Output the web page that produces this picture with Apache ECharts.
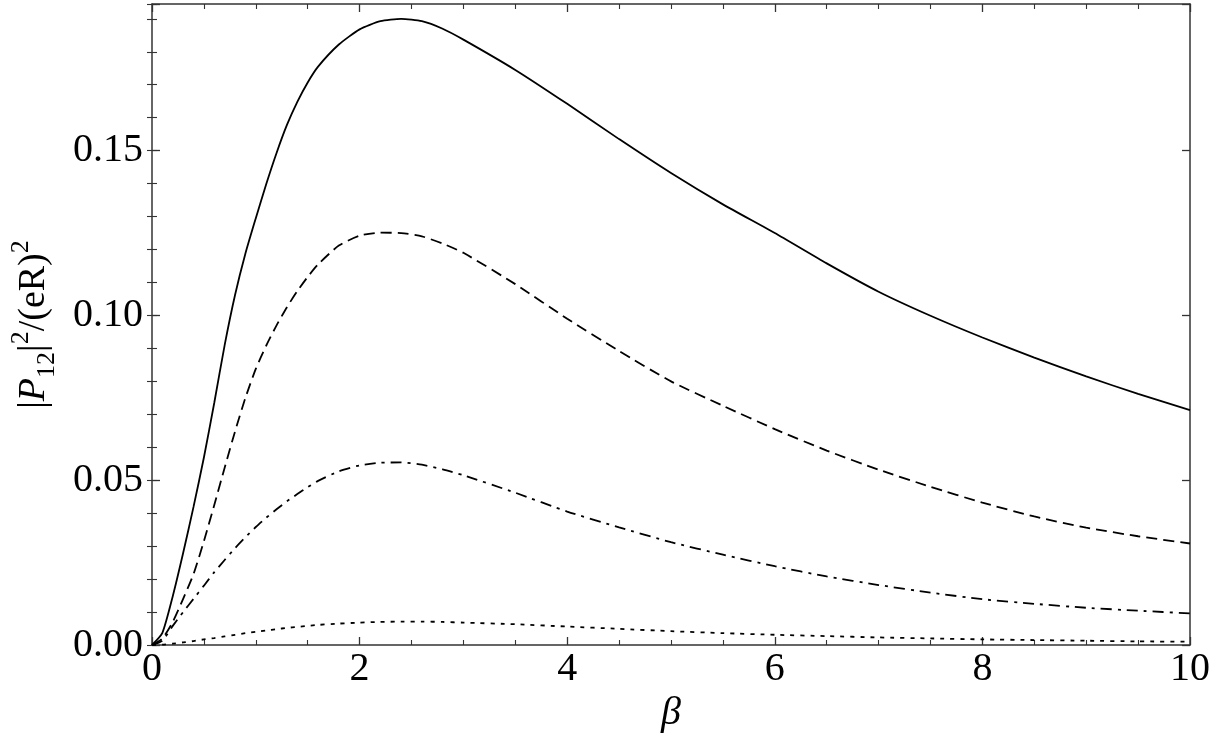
<!DOCTYPE html>
<html>
<head>
<meta charset="utf-8">
<script src="https://cdn.jsdelivr.net/npm/echarts@6/dist/echarts.min.js"></script>
<style>
  html, body { margin: 0; padding: 0; background: #fff; }
  #main { width: 1216px; height: 750px; }
</style>
</head>
<body>
<div id="main"></div>
<script>
  // beta sample points
  let beta = [0, 0.1, 0.2, 0.3, 0.4, 0.5, 0.6, 0.7, 0.8, 0.9, 1.0, 1.1, 1.2, 1.3, 1.4, 1.5, 1.6, 1.8,
    2.0, 2.2, 2.4, 2.6, 2.8, 3.0, 3.5, 4.0, 4.5, 5.0, 5.5, 6.0, 6.5, 7.0, 7.5, 8.0, 8.5, 9.0, 9.5, 10]
  // solid
  let solidVals = [0, 0.0037, 0.0148, 0.0279, 0.0419, 0.0569, 0.0735, 0.0910, 0.1062, 0.1188, 0.1295,
    0.1398, 0.1493, 0.1578, 0.1648, 0.1707, 0.1755, 0.1822, 0.1868, 0.1893, 0.1900, 0.1893, 0.1870,
    0.1837, 0.1745, 0.1642, 0.1535, 0.1432, 0.1337, 0.1250, 0.1158, 0.1072, 0.0999, 0.0933, 0.0872,
    0.0815, 0.0762, 0.0713]
  // dashed
  let dashedVals = [0, 0.0020, 0.0070, 0.0140, 0.0215, 0.0315, 0.0425, 0.0538, 0.0648, 0.0750, 0.0838,
    0.0908, 0.0970, 0.1025, 0.1074, 0.1117, 0.1155, 0.1212, 0.1242, 0.1251, 0.1250, 0.1240, 0.1218,
    0.1190, 0.1095, 0.0990, 0.0892, 0.0800, 0.0726, 0.0655, 0.0590, 0.0532, 0.0480, 0.0432, 0.0390,
    0.0356, 0.0330, 0.0308]
  // dash-dot
  let dashDotVals = [0, 0.0013, 0.0058, 0.0100, 0.0140, 0.0180, 0.0221, 0.0258, 0.0294, 0.0327, 0.0358,
    0.0386, 0.0412, 0.0436, 0.0458, 0.0479, 0.0498, 0.0527, 0.0545, 0.0553, 0.0554, 0.0547, 0.0533,
    0.0515, 0.0462, 0.0405, 0.0357, 0.0312, 0.0274, 0.0239, 0.0208, 0.0182, 0.0159, 0.0139, 0.0125,
    0.0113, 0.0104, 0.0096]
  // dotted
  let dottedVals = [0, 0.0001, 0.0004, 0.0008, 0.0012, 0.0017, 0.0021, 0.0026, 0.0031, 0.0036, 0.0040,
    0.0044, 0.0048, 0.0052, 0.0055, 0.0058, 0.0061, 0.0065, 0.0068, 0.0070, 0.0071, 0.0071, 0.0070,
    0.0068, 0.0063, 0.0056, 0.0049, 0.0042, 0.0036, 0.0031, 0.0027, 0.0023, 0.0020, 0.0017, 0.0015,
    0.0013, 0.0011, 0.0010]

  let xTicks = [0, 2, 4, 6, 8, 10]
  let yTicks = [0, 0.05, 0.10, 0.15]

  let font = "'Liberation Serif', 'DejaVu Serif', serif"
  let frame = { show: true, onZero: false, lineStyle: { color: '#333', width: 1.5 } }
  let yMax = 0.1945

  function pairs(vals) {
    return beta.map((b, i) => [b, vals[i]])
  }

  function xAxisDef(pos, showLabel) {
    return {
      type: 'value', position: pos, min: 0, max: 10, interval: 2,
      axisLine: frame,
      axisTick: { show: true, inside: true, length: 8, lineStyle: { color: '#333', width: 1.3 } },
      minorTick: { show: true, splitNumber: 4, length: 5, lineStyle: { color: '#333', width: 1.1 } },
      splitLine: { show: false },
      axisLabel: {
        show: showLabel, margin: 4, color: '#000', fontFamily: font, fontSize: 40,
        formatter: v => xTicks.indexOf(v) >= 0 ? String(v) : ''
      },
      name: showLabel ? 'β' : '',
      nameLocation: 'middle', nameGap: 37,
      nameTextStyle: { color: '#000', fontFamily: font, fontSize: 40, fontStyle: 'italic' }
    }
  }

  // y name: |P_12|^2/(eR)^2 with rich text for sub/superscripts
  let yName = '{n||}{i|P}{sub|12}{n||}{sup|2}{n|/(eR)}{sup|2}'
  let yRich = {
    n: { fontFamily: font, fontSize: 38, lineHeight: 52, color: '#000' },
    i: { fontFamily: font, fontSize: 38, lineHeight: 52, fontStyle: 'italic', color: '#000' },
    sub: { fontFamily: font, fontSize: 26, lineHeight: 30, verticalAlign: 'bottom', color: '#000' },
    sup: { fontFamily: font, fontSize: 26, lineHeight: 30, verticalAlign: 'top', color: '#000' }
  }

  function yAxisDef(pos, major, showLabel) {
    return {
      type: 'value', position: pos, min: 0, max: yMax, interval: major ? 0.05 : 0.01,
      axisLine: major ? frame : { show: false },
      axisTick: { show: true, inside: true, length: major ? 8 : 5, lineStyle: { color: '#333', width: major ? 1.3 : 1.1 } },
      splitLine: { show: false },
      axisLabel: {
        show: showLabel, margin: 9, color: '#000', fontFamily: font, fontSize: 40,
        formatter: v => yTicks.some(t => Math.abs(t - v) < 1e-9) ? v.toFixed(2) : ''
      },
      name: showLabel ? yName : '',
      nameLocation: 'middle', nameGap: 92,
      nameTextStyle: { color: '#000', fontFamily: font, fontSize: 38, rich: yRich }
    }
  }

  function lineSeries(name, vals, dash) {
    return {
      name: name, type: 'line', data: pairs(vals), xAxisIndex: 0, yAxisIndex: 0,
      showSymbol: false, smooth: 0.2, animation: false,
      lineStyle: { color: '#000', width: 1.8, type: dash }
    }
  }

  let chart = echarts.init(document.getElementById('main'))
  chart.setOption({
    animation: false,
    grid: { left: 150, right: 26, top: 4, bottom: 105, containLabel: false },
    xAxis: [xAxisDef('bottom', true), xAxisDef('top', false)],
    yAxis: [yAxisDef('left', true, true), yAxisDef('left', false, false),
      yAxisDef('right', true, false), yAxisDef('right', false, false)],
    series: [
      lineSeries('solid', solidVals, 'solid'),
      lineSeries('dashed', dashedVals, [11, 6]),
      lineSeries('dashdot', dashDotVals, [11, 6, 3, 6]),
      lineSeries('dotted', dottedVals, [4, 6])
    ]
  })
</script>
</body>
</html>
